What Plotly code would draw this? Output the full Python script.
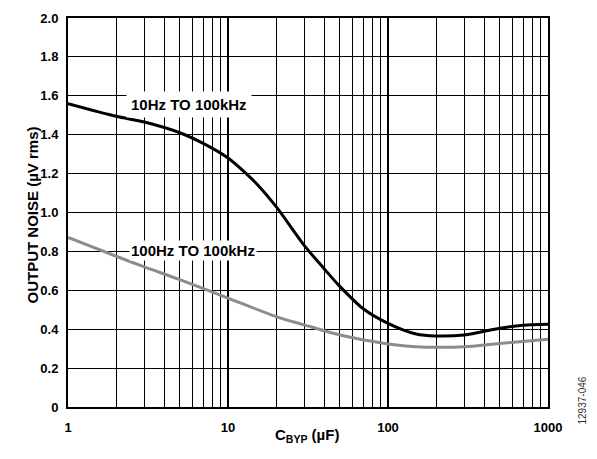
import plotly.graph_objects as go

# Data
cbyp_black = [1, 2, 3, 5, 7, 10, 13, 15, 20, 30, 40, 50, 70, 100, 150, 200, 300, 500, 700, 1000]
noise_10hz = [1.56, 1.495, 1.465, 1.41, 1.355, 1.28, 1.2, 1.15, 1.03, 0.83, 0.71, 0.62, 0.505, 0.43, 0.375, 0.365, 0.37, 0.405, 0.42, 0.425]

cbyp_gray = [1, 2, 3, 5, 10, 20, 30, 50, 100, 150, 200, 300, 500, 1000]
noise_100hz = [0.872, 0.775, 0.72, 0.655, 0.56, 0.465, 0.422, 0.37, 0.324, 0.31, 0.307, 0.31, 0.327, 0.348]

x_major = [1, 10, 100, 1000]
x_major_text = ["1", "10", "100", "1000"]
x_minor = [2, 3, 4, 5, 6, 7, 8, 9, 20, 30, 40, 50, 60, 70, 80, 90, 200, 300, 400, 500, 600, 700, 800, 900]
y_ticks = [0, 0.2, 0.4, 0.6, 0.8, 1.0, 1.2, 1.4, 1.6, 1.8, 2.0]
y_text = ["0", "0.2", "0.4", "0.6", "0.8", "1.0", "1.2", "1.4", "1.6", "1.8", "2.0"]

FONT = "Liberation Sans, Arial, sans-serif"
L, R, T, B = 68, 49, 18, 52
W, H = 597, 459
plot_w = W - L - R
plot_h = H - T - B

fig = go.Figure()
fig.add_trace(go.Scatter(x=cbyp_gray, y=noise_100hz, mode="lines",
                         line=dict(color="#8c8c8c", width=3, shape="spline", smoothing=0.8),
                         showlegend=False, hoverinfo="skip"))
fig.add_trace(go.Scatter(x=cbyp_black, y=noise_10hz, mode="lines",
                         line=dict(color="#000000", width=3, shape="spline", smoothing=0.8),
                         showlegend=False, hoverinfo="skip"))

fig.update_layout(
    width=W, height=H,
    margin=dict(l=L, r=R, t=T, b=B, autoexpand=False),
    paper_bgcolor="white", plot_bgcolor="white",
    font=dict(family=FONT, size=13, color="black", weight="bold"),
    xaxis=dict(
        type="log", range=[0, 3], automargin=False,
        tickmode="array", tickvals=x_major, ticktext=x_major_text,
        showgrid=True, gridcolor="black", gridwidth=2,
        minor=dict(tickmode="array", tickvals=x_minor, showgrid=True, gridcolor="black", gridwidth=1, ticks=""),
        showline=True, linecolor="black", linewidth=2, mirror=True,
        ticks="", ticklabelstandoff=7,
        tickfont=dict(family=FONT, size=13, weight="bold"),
        zeroline=False,
    ),
    yaxis=dict(
        range=[0, 2], automargin=False, tickmode="array", tickvals=y_ticks, ticktext=y_text,
        showgrid=True, gridcolor="black", gridwidth=1,
        showline=True, linecolor="black", linewidth=2, mirror=True,
        ticks="", ticklabelstandoff=5, tickfont=dict(family=FONT, size=13, weight="bold"),
        zeroline=False,
    ),
)

# axis titles placed as annotations in paper coordinates
fig.add_annotation(x=(307 - L) / plot_w, y=(H - B - 447) / plot_h, xref="paper", yref="paper",
                   text="C<sub>BYP</sub> (µF)", showarrow=False,
                   font=dict(family=FONT, size=15, weight="bold", color="black"))
fig.add_annotation(x=(21 - L) / plot_w, y=(H - B - 215) / plot_h, xref="paper", yref="paper",
                   text="OUTPUT NOISE (µV rms)", showarrow=False, textangle=-90,
                   font=dict(family=FONT, size=15, weight="bold", color="black"))

fig.add_annotation(x=0.756, y=1.553, xref="x", yref="y", text="10Hz TO 100kHz",
                   showarrow=False, bgcolor="white", borderpad=4,
                   font=dict(family=FONT, size=15, weight="bold", color="black"))
fig.add_annotation(x=0.78, y=0.807, xref="x", yref="y", text="100Hz TO 100kHz",
                   showarrow=False, bgcolor="white", borderpad=1,
                   font=dict(family=FONT, size=15, weight="bold", color="black"))
fig.add_annotation(x=(589 - L) / plot_w, y=(H - B - 427) / plot_h, xref="paper", yref="paper",
                   text="12937-046", showarrow=False, textangle=-90,
                   font=dict(family=FONT, size=10, weight="normal", color="#333333"))

fig.write_html("out.html", config={"displayModeBar": False},
               post_script="document.body.style.margin='0';document.body.style.overflow='hidden';")
